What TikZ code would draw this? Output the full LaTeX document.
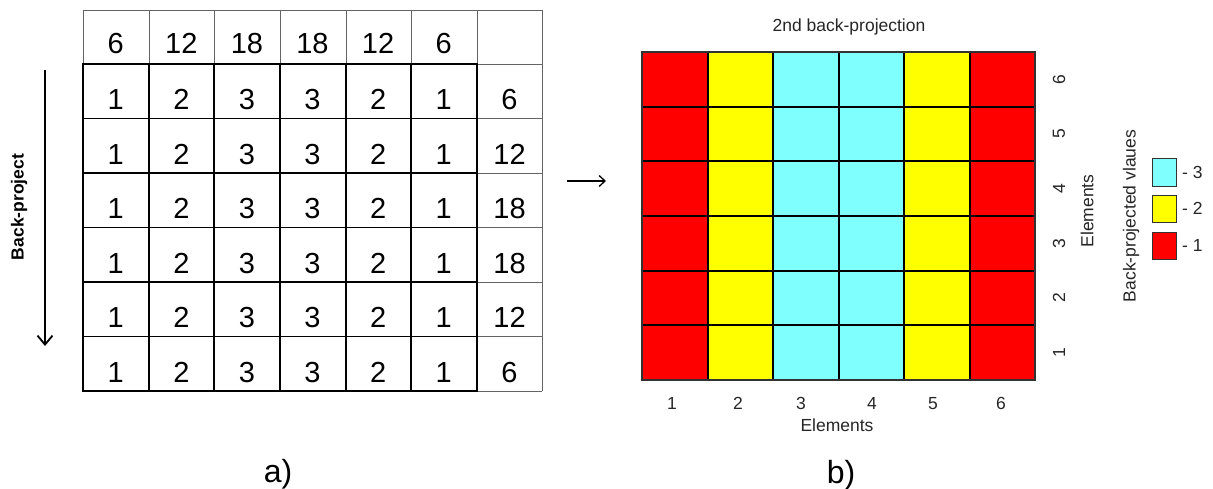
\documentclass[tikz,border=0pt]{standalone}
\usepackage{fontspec}
\setmainfont{Liberation Sans}
\usetikzlibrary{arrows.meta}
\definecolor{hmred}{RGB}{255,0,0}
\definecolor{hmyellow}{RGB}{255,255,0}
\definecolor{hmcyan}{RGB}{128,255,255}
\definecolor{thingray}{RGB}{100,100,100}
\definecolor{framegray}{RGB}{50,50,50}

\begin{document}
\begin{tikzpicture}[x=1pt,y=-1pt,
  thinrule/.style={draw=thingray,line width=0.8pt},
  thickrule/.style={draw=black,line width=1.8pt,line cap=rect},
  maprule/.style={draw=black,line width=2pt},
  tabnum/.style={anchor=base,inner sep=0pt,font=\fontsize{29}{31}\selectfont},
  plotlbl/.style={inner sep=0pt,font=\fontsize{17.5}{19}\selectfont,text=black!85},
  caplbl/.style={anchor=base,inner sep=0pt,font=\fontsize{32}{34}\selectfont},
  legbox/.style={draw=framegray,line width=0.8pt},
  flowarrow/.style={-{Straight Barb[length=9pt,width=15pt]},line width=1.8pt}
]
\useasboundingbox (0,0) rectangle (1213,489);
\fill[white] (0,0) rectangle (1213,489);

% ---------- a) table of back-projected values ----------
% light outer grid (projection row and sum column)
\foreach \x in {83,149,214,280,346,411,477,542}
  \draw[thinrule] (\x,10) -- (\x,391);
\foreach \y in {10,64,118.5,173,227.5,282,336.5,391}
  \draw[thinrule] (83,\y) -- (542,\y);
% heavy inner 6x6 grid
\foreach \x in {83,149,214,280,346,411,477}
  \draw[thickrule] (\x,64) -- (\x,391);
\foreach \y in {64,118.5,173,227.5,282,336.5,391}
  \draw[thickrule] (83,\y) -- (477,\y);

% projection values along the top row
\foreach \v [count=\c] in {6,12,18,18,12,6}
  \node[tabnum] (p-\c) at ({83+65.57*(\c-0.5)},54) {\v};
% cell values
\foreach \r in {1,...,6}
  \foreach \v [count=\c] in {1,2,3,3,2,1}
    \node[tabnum] (t-\r-\c) at ({83+65.57*(\c-0.5)},{64+54.5*(\r-0.5)+18.5}) {\v};
% row sums in the last column
\foreach \v [count=\r] in {6,12,18,18,12,6}
  \node[tabnum] (s-\r) at (509.5,{64+54.5*(\r-0.5)+18.5}) {\v};

% back-projection direction
\coordinate (bp-start) at (45,70);
\coordinate (bp-end) at (45,346);
\draw[flowarrow] (bp-start) -- (bp-end);
\node[rotate=90,inner sep=0pt,font=\bfseries\fontsize{17.5}{19}\selectfont] (bp-label) at (19,207) {Back-project};

\node[caplbl] (cap-a) at (278,482) {a)};

% ---------- link between the panels ----------
\coordinate (link-start) at (567,181);
\coordinate (link-end) at (606,181);
\draw[-{Straight Barb[length=6pt,width=11pt]},line width=1.3pt] (link-start) -- (link-end);

% ---------- b) colour map ----------
\node[plotlbl,anchor=base] (title) at (849,32) {2nd back-projection};

\foreach \col [count=\c] in {hmred,hmyellow,hmcyan,hmcyan,hmyellow,hmred}
  \fill[\col] ({642+65.5*(\c-1)},52) rectangle ++(65.5,328);
\foreach \c in {1,...,5}
  \draw[maprule] ({642+65.5*\c},52) -- ++(0,328);
\foreach \r in {1,...,5}
  \draw[maprule] (642,{52+54.667*\r}) -- ++(393,0);
\draw[draw=framegray,line width=1.2pt] (642,52) rectangle (1035,380);

% axis tick labels
\foreach \x [count=\i] in {672,738,801,872,933,1001}
  \node[plotlbl,anchor=base] (xt-\i) at (\x,409) {\i};
\node[plotlbl,anchor=base] (xlabel) at (837,431) {Elements};
\foreach \i in {1,...,6}
  \node[plotlbl,rotate=90] (yt-\i) at (1059,{380-54.667*(\i-0.5)}) {\i};
\node[plotlbl,rotate=90] (ylabel) at (1087,211) {Elements};

% legend
\node[plotlbl,rotate=90] (legtitle) at (1131,216) {Back-projected vlaues};
\draw[legbox,fill=hmcyan] (1152,158) rectangle (1176,186);
\draw[legbox,fill=hmyellow] (1152,195) rectangle (1176,222);
\draw[legbox,fill=hmred] (1152,232) rectangle (1176,259);
\node[plotlbl,anchor=west] (leg-3) at (1182,172) {- 3};
\node[plotlbl,anchor=west] (leg-2) at (1182,208.5) {- 2};
\node[plotlbl,anchor=west] (leg-1) at (1182,245.5) {- 1};

\node[caplbl] (cap-b) at (841,483) {b)};
\end{tikzpicture}
\end{document}
